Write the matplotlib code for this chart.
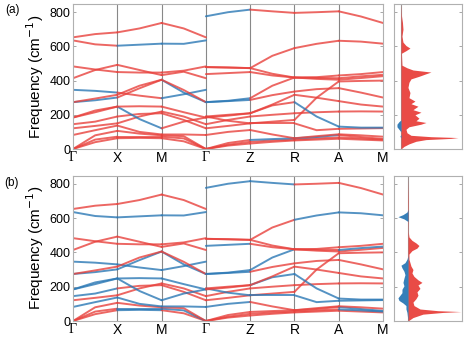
import numpy as np
import matplotlib
matplotlib.use("Agg")
import matplotlib.pyplot as plt

RED = "#e8413c"
BLUE = "#2b78b5"

# high-symmetry labels along the path
k_labels = ["Γ", "X", "M", "Γ", "Z", "R", "A", "M"]

# band frequencies (cm-1), left part: Γ, ½, X, ½, M, ½, Γ
left_bands = [
    [0, 40, 63, 65, 63, 45, 0],
    [0, 55, 72, 72, 72, 62, 0],
    [0, 80, 106, 90, 80, 75, 0],
    [82, 110, 137, 100, 85, 85, 82],
    [121, 135, 150, 190, 219, 190, 145],
    [145, 160, 190, 205, 209, 170, 121],
    [184, 215, 248, 175, 121, 160, 184],
    [184, 225, 248, 250, 248, 215, 184],
    [274, 285, 301, 355, 405, 330, 274],
    [346, 340, 330, 312, 297, 320, 346],
    [274, 295, 317, 370, 405, 345, 274],
    [414, 462, 492, 462, 432, 452, 414],
    [483, 465, 450, 447, 447, 458, 483],
    [635, 612, 604, 610, 616, 615, 635],
    [653, 672, 682, 705, 737, 705, 653],
]

# right part: Γ, ½, Z, ½, R, ½, A, ½, M
right_bands = [
    [0, 20, 32, 42, 50, 55, 60, 55, 50],
    [121, 135, 150, 160, 170, 300, 395, 398, 400],
    [0, 25, 42, 50, 55, 62, 68, 62, 55],
    [0, 35, 53, 58, 63, 70, 82, 70, 59],
    [82, 100, 111, 85, 63, 75, 86, 80, 72],
    [145, 170, 190, 200, 209, 215, 219, 220, 219],
    [190, 165, 150, 150, 150, 110, 118, 120, 122],
    [184, 195, 209, 255, 274, 190, 131, 125, 125],
    [190, 200, 209, 260, 317, 300, 280, 260, 248],
    [274, 280, 287, 315, 336, 350, 356, 330, 301],
    [274, 282, 297, 370, 418, 410, 405, 415, 426],
    [438, 444, 450, 430, 418, 416, 414, 425, 434],
    [479, 476, 473, 440, 418, 420, 430, 438, 450],
    [479, 477, 473, 545, 590, 615, 633, 628, 616],
    [776, 800, 815, 805, 796, 800, 805, 775, 737],
]

# colour of each band on each segment (ΓX XM MΓ | ΓZ ZR RA AM)
colors_a = [
    "rrr" "rrrr", "rrr" "rrrr", "rrr" "rrrr", "rrr" "rbbr", "rrr" "rrrr",
    "rrr" "rrrr", "rbr" "rrrr", "rrr" "rrbb", "brb" "rrrr", "brb" "brrr",
    "rrr" "brrr", "rrr" "rrrr", "rrr" "rrrr", "rbb" "rrrr", "rrr" "brrr",
]
colors_b = [
    "rbr" "rrrr", "rbb" "rrrr", "rrr" "rrrb", "bbb" "rrrb", "rrr" "brrr",
    "brr" "rrrr", "bbb" "bbbb", "bbb" "rbbb", "bbb" "rrrr", "bbb" "brrr",
    "rrr" "bbrr", "rrr" "brrb", "rrr" "rrrr", "bbb" "rrbb", "rrr" "bbrr",
]

# projected phonon DOS, red part (right of zero) and blue part (left of zero)
dos_a_red_f = [0, 15, 30, 45, 55, 62, 67, 72, 80, 95, 115, 130, 145, 155, 165, 180, 200,
               215, 230, 250, 265, 280, 300, 330, 360, 390, 410, 425, 440, 450, 462, 475,
               490, 560, 575, 590, 605, 625, 660, 700, 740, 780, 850]
dos_a_red = [0, 3, 8, 15, 25, 50, 57, 30, 10, 6, 5, 8, 20, 25, 15, 18, 14,
             20, 12, 17, 10, 14, 8, 9, 7, 8, 10, 18, 25, 30, 12, 6,
             1, 0.5, 5, 9, 5, 2, 1, 2, 1.5, 0.5, 0]
dos_a_blue_f = [0, 65, 75, 85, 100, 115, 130, 145, 160, 170, 850]
dos_a_blue = [0, 0, -1, 0, 0, -2, -4, -4, -2, 0, 0]

dos_b_red_f = [0, 20, 40, 50, 55, 60, 70, 90, 110, 130, 150, 170, 190, 210, 225, 240,
               260, 280, 300, 320, 340, 360, 390, 410, 425, 440, 455, 470, 490, 520, 700, 850]
dos_b_red = [0, 5, 15, 35, 53, 30, 12, 6, 5, 8, 10, 9, 12, 10, 14, 10,
             6, 4, 5, 3, 2, 1, 1, 4, 9, 11, 8, 4, 1, 0.3, 0.5, 0]
dos_b_blue_f = [0, 50, 70, 90, 105, 120, 135, 150, 165, 185, 205, 225, 250, 270, 290,
                310, 325, 340, 360, 380, 580, 595, 608, 620, 635, 650, 850]
dos_b_blue = [0, -1, -2, -2, -5, -9, -10, -8, -6, -6, -4, -5, -4, -3, -4,
              -6, -7, -3, -1, 0, 0, -4, -10, -5, -1, 0, 0]

plt.rcParams["font.family"] = ["Liberation Sans", "DejaVu Sans"]

fig = plt.figure(figsize=(4.69, 3.47), dpi=100)

k_left = np.arange(7) * 0.5
k_right = 3 + np.arange(9) * 0.5
ymax = 848


def style_axes(ax):
    for s in ax.spines.values():
        s.set_color("#b0b0b0")
        s.set_linewidth(0.8)
    ax.set_ylim(0, ymax)
    ax.set_yticks([0, 200, 400, 600, 800])
    ax.tick_params(axis="y", direction="in", length=2.5, width=0.6, color="#999999",
                   right=True, labelsize=9, pad=2)


def draw_bands(ax, colors):
    for i in range(len(left_bands)):
        for j in range(3):
            c = RED if colors[i][j] == "r" else BLUE
            ax.plot(k_left[2 * j:2 * j + 3], left_bands[i][2 * j:2 * j + 3], color=c,
                    lw=1.4, alpha=0.8, solid_capstyle="round")
        for j in range(4):
            c = RED if colors[i][3 + j] == "r" else BLUE
            ax.plot(k_right[2 * j:2 * j + 3], right_bands[i][2 * j:2 * j + 3], color=c,
                    lw=1.4, alpha=0.8, solid_capstyle="round")
    for x in range(1, 7):
        ax.axvline(x, color="#888888", lw=0.8, zorder=0)
    ax.set_xlim(0, 7)
    ax.set_xticks(range(8))
    ax.set_xticklabels([])
    ax.tick_params(axis="x", length=0)
    for x, lab in enumerate(k_labels):
        fam = ["Liberation Serif"] if lab == "Γ" else ["Liberation Sans"]
        ax.text(x, -12, lab, ha="center", va="top", fontsize=10, family=fam,
                transform=ax.get_xaxis_transform() if False else ax.transData)
    style_axes(ax)
    ax.set_ylabel("Frequency (cm$^{-1}$)", fontsize=11, labelpad=2)


def draw_dos(ax, rf, r, bf, b, xlim):
    ax.fill_betweenx(rf, 0, r, color=RED, lw=0, alpha=0.95)
    ax.fill_betweenx(bf, 0, b, color=BLUE, lw=0, alpha=0.95)
    ax.axvline(0, color="#999999", lw=0.8, zorder=0)
    ax.set_xlim(*xlim)
    ax.set_xticks([])
    style_axes(ax)
    ax.set_yticklabels([])


ax_a = fig.add_axes([0.1557, 0.5706, 0.661, 0.4179])
draw_bands(ax_a, colors_a)
dos_a = fig.add_axes([0.840, 0.5706, 0.145, 0.4179])
draw_dos(dos_a, dos_a_red_f, dos_a_red, dos_a_blue_f, dos_a_blue, (-7, 61))

ax_b = fig.add_axes([0.1557, 0.0749, 0.661, 0.4193])
draw_bands(ax_b, colors_b)
dos_b = fig.add_axes([0.840, 0.0749, 0.145, 0.4193])
draw_dos(dos_b, dos_b_red_f, dos_b_red, dos_b_blue_f, dos_b_blue, (-14, 54))

fig.text(0.012, 0.972, "(a)", fontsize=8.5, va="center")
fig.text(0.010, 0.472, "(b)", fontsize=8.5, va="center")

fig.savefig("out.png", dpi=100)
